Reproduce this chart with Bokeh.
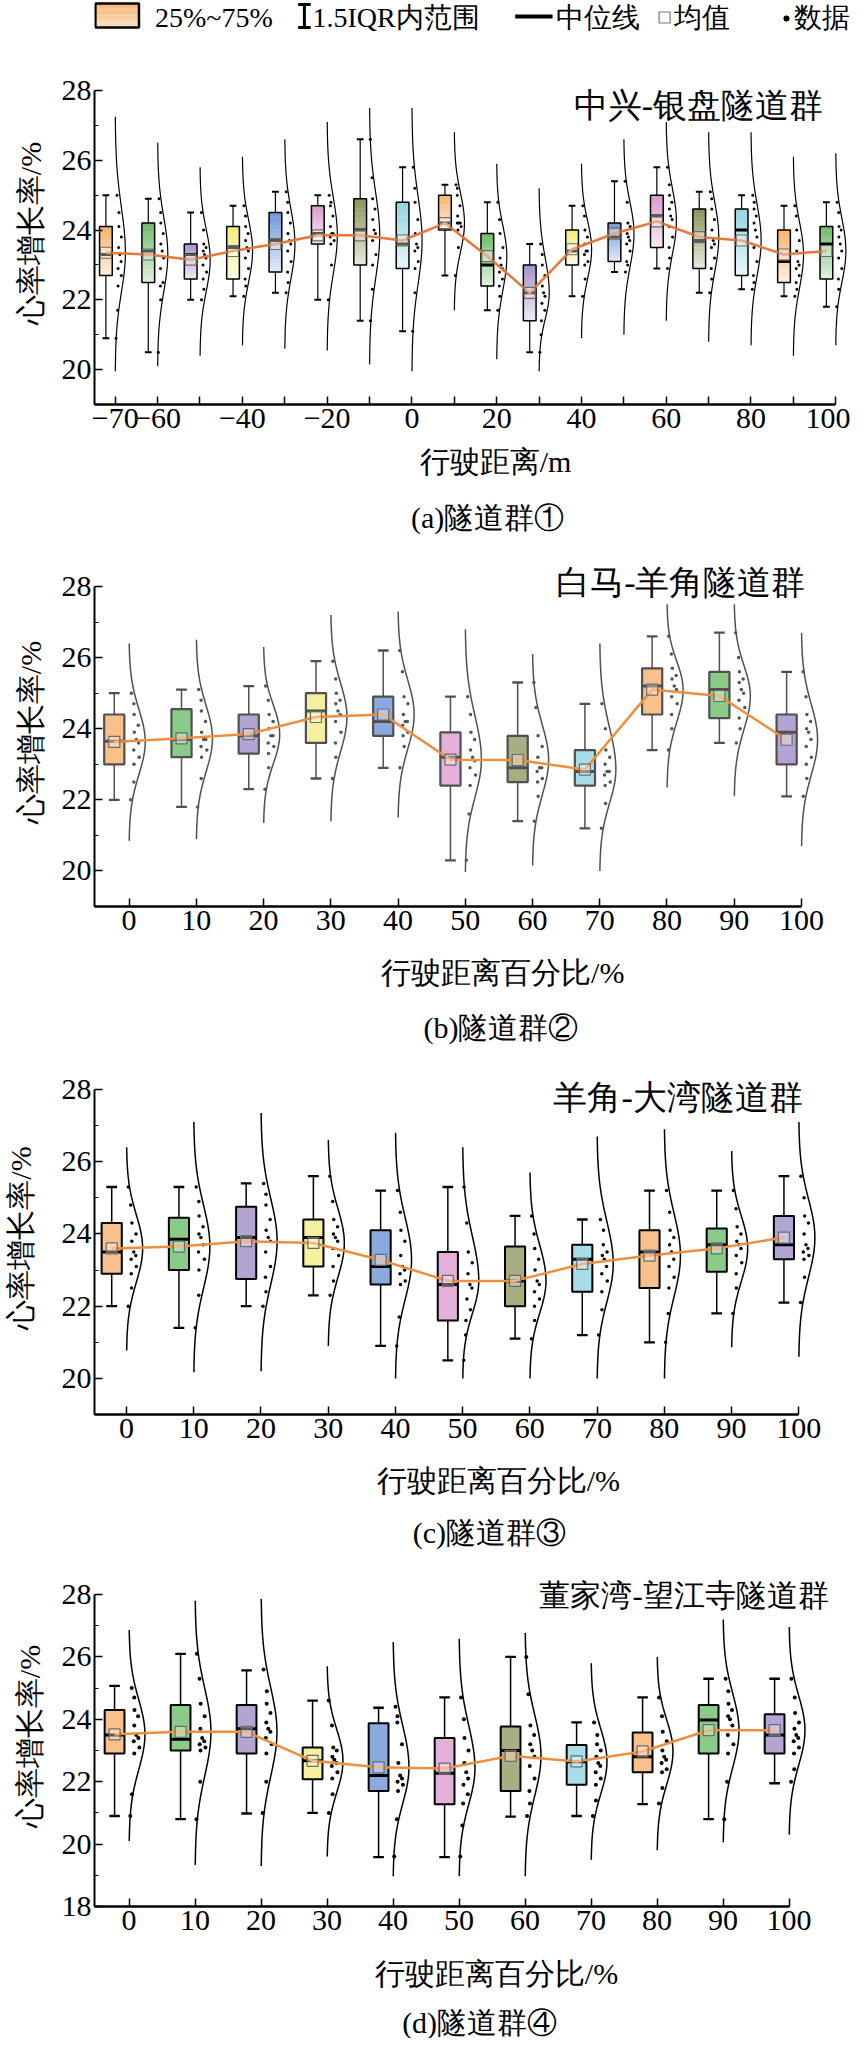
import numpy as np
from bokeh.plotting import figure
from bokeh.layouts import column
from bokeh.models import Range1d, FixedTicker
from bokeh.core.properties import value
from bokeh.embed import file_html
from bokeh.resources import INLINE

FONT = "Liberation Serif"

# ---------------- data ----------------
Y_TITLE = "心率增长率/%"

P1_TITLE = "中兴-银盘隧道群"
P1_XLABEL = "行驶距离/m"
P1_CAPTION = "(a)隧道群①"
P1_X = [-70, -60, -50, -40, -30, -20, -10, 0, 10, 20, 30, 40, 50, 60, 70, 80, 90, 100]
P1_TICKLABELS = {-70: "\u221270", -60: "\u221260", -50: "", -40: "\u221240", -30: "", -20: "\u221220",
                 -10: "", 10: "", 30: "", 50: "", 70: "", 90: ""}
P1_WT = [25.0, 24.9, 24.5, 24.7, 25.1, 25.0, 26.6, 25.8, 25.3, 24.8, 23.6, 24.7, 25.4, 25.8, 25.1, 25.0, 24.7, 24.8]
P1_Q3 = [24.1, 24.2, 23.6, 24.1, 24.5, 24.7, 24.9, 24.8, 25.0, 23.9, 23.0, 24.0, 24.2, 25.0, 24.6, 24.6, 24.0, 24.1]
P1_MED = [23.3, 23.4, 23.3, 23.5, 23.7, 23.9, 24.0, 23.6, 24.2, 23.0, 22.2, 23.4, 23.8, 24.4, 23.7, 24.0, 23.1, 23.6]
P1_Q1 = [22.7, 22.5, 22.6, 22.6, 22.8, 23.6, 23.0, 22.9, 24.0, 22.4, 21.4, 23.0, 23.1, 23.5, 22.9, 22.7, 22.5, 22.6]
P1_WB = [20.9, 20.5, 22.0, 22.1, 22.2, 22.0, 21.4, 21.1, 22.7, 21.7, 20.5, 22.1, 22.8, 22.9, 22.2, 22.3, 22.1, 21.8]
P1_MEAN = [23.35, 23.3, 23.15, 23.4, 23.6, 23.85, 23.85, 23.7, 24.2, 23.25, 22.2, 23.45, 23.9, 24.25, 23.8, 23.7, 23.3, 23.4]
P1_VHI = [27.25, 26.5, 25.8, 26.1, 26.6, 27.1, 27.5, 27.5, 26.8, 25.9, 25.2, 25.9, 26.6, 27.1, 26.8, 26.8, 26.1, 26.2]
P1_VLO = [19.95, 20.1, 20.4, 20.7, 20.6, 20.55, 20.15, 19.95, 21.7, 20.3, 19.95, 20.9, 21.0, 21.4, 20.8, 20.7, 20.4, 20.7]
P1_DOTS = [
    [20.9, 21.7, 22.4, 22.7, 22.9, 23.1, 23.3, 23.5, 23.8, 24.1, 24.5, 25.0],
    [20.5, 22.0, 22.4, 22.5, 22.9, 23.2, 23.4, 23.6, 23.9, 24.2, 24.5, 24.9],
    [22.0, 22.3, 22.6, 22.8, 23.0, 23.2, 23.3, 23.4, 23.5, 23.6, 24.0, 24.5],
    [22.1, 22.4, 22.6, 22.9, 23.2, 23.4, 23.5, 23.7, 23.9, 24.1, 24.4, 24.7],
    [22.2, 22.5, 22.8, 23.1, 23.4, 23.6, 23.7, 23.9, 24.2, 24.5, 24.8, 25.1],
    [22.0, 23.0, 23.6, 23.7, 23.8, 23.9, 23.9, 24.1, 24.4, 24.7, 24.8, 25.0],
    [21.4, 22.3, 23.0, 23.3, 23.7, 23.9, 24.0, 24.3, 24.6, 24.9, 25.5, 26.6],
    [21.1, 22.2, 22.9, 23.1, 23.4, 23.5, 23.6, 23.9, 24.3, 24.8, 25.2, 25.8],
    [22.7, 23.5, 24.0, 24.1, 24.2, 24.2, 24.2, 24.4, 24.7, 25.0, 25.2, 25.3],
    [21.7, 22.1, 22.4, 22.6, 22.8, 22.9, 23.0, 23.2, 23.5, 23.9, 24.3, 24.8],
    [20.5, 21.0, 21.4, 21.7, 21.9, 22.1, 22.2, 22.4, 22.7, 23.0, 23.3, 23.6],
    [22.1, 22.6, 23.0, 23.1, 23.3, 23.4, 23.4, 23.6, 23.8, 24.0, 24.4, 24.7],
    [22.8, 23.0, 23.1, 23.4, 23.6, 23.7, 23.8, 23.9, 24.1, 24.2, 24.8, 25.4],
    [22.9, 23.2, 23.5, 23.8, 24.1, 24.3, 24.4, 24.6, 24.8, 25.0, 25.3, 25.8],
    [22.2, 22.6, 22.9, 23.2, 23.5, 23.6, 23.7, 24.0, 24.3, 24.6, 24.9, 25.1],
    [22.3, 22.5, 22.7, 23.1, 23.5, 23.8, 24.0, 24.2, 24.4, 24.6, 24.8, 25.0],
    [22.1, 22.3, 22.5, 22.7, 22.9, 23.0, 23.1, 23.4, 23.7, 24.0, 24.4, 24.7],
    [21.8, 22.3, 22.6, 22.9, 23.2, 23.4, 23.6, 23.8, 24.0, 24.1, 24.5, 24.8],
]

PCT_X = [0, 10, 20, 30, 40, 50, 60, 70, 80, 90, 100]
PCT_XLABEL = "行驶距离百分比/%"

P2_TITLE = "白马-羊角隧道群"
P2_CAPTION = "(b)隧道群②"
P2_WT = [25.0, 25.1, 25.2, 25.9, 26.2, 24.9, 25.3, 24.7, 26.6, 26.7, 25.6]
P2_Q3 = [24.4, 24.55, 24.4, 25.0, 24.9, 23.9, 23.8, 23.4, 25.7, 25.6, 24.4]
P2_MED = [23.65, 23.7, 23.8, 24.5, 24.2, 23.2, 22.9, 22.8, 25.2, 25.1, 23.9]
P2_Q1 = [23.0, 23.2, 23.3, 23.6, 23.8, 22.4, 22.5, 22.4, 24.4, 24.3, 23.0]
P2_WB = [22.0, 21.8, 22.3, 22.6, 22.9, 20.3, 21.4, 21.2, 23.4, 23.6, 22.1]
P2_MEAN = [23.63, 23.73, 23.85, 24.33, 24.4, 23.13, 23.12, 22.85, 25.1, 24.92, 23.69]
P2_VHI = [26.4, 26.5, 26.3, 27.2, 27.3, 26.8, 26.1, 26.4, 27.5, 27.5, 26.7]
P2_VLO = [20.85, 20.9, 21.35, 21.4, 21.5, 19.97, 20.15, 20.0, 22.35, 22.1, 20.7]
P2_DOTS = [
    [22.0, 22.5, 23.0, 23.2, 23.4, 23.6, 23.7, 23.9, 24.1, 24.4, 24.7, 25.0],
    [21.8, 22.6, 23.2, 23.4, 23.5, 23.7, 23.7, 23.9, 24.2, 24.5, 24.8, 25.1],
    [22.3, 22.9, 23.3, 23.5, 23.6, 23.8, 23.8, 24.0, 24.2, 24.4, 24.8, 25.2],
    [22.6, 23.2, 23.6, 23.9, 24.2, 24.4, 24.5, 24.7, 24.8, 25.0, 25.4, 25.9],
    [22.9, 23.5, 23.8, 23.9, 24.1, 24.2, 24.2, 24.4, 24.7, 24.9, 25.6, 26.2],
    [20.3, 21.6, 22.4, 22.7, 22.9, 23.1, 23.2, 23.4, 23.7, 23.9, 24.4, 24.9],
    [21.4, 22.1, 22.5, 22.6, 22.8, 22.9, 22.9, 23.2, 23.5, 23.8, 24.6, 25.3],
    [21.2, 21.9, 22.4, 22.5, 22.7, 22.8, 22.8, 23.0, 23.2, 23.4, 24.0, 24.7],
    [23.4, 24.0, 24.4, 24.7, 24.9, 25.1, 25.2, 25.4, 25.5, 25.7, 26.1, 26.6],
    [23.6, 24.0, 24.3, 24.6, 24.8, 25.0, 25.1, 25.3, 25.4, 25.6, 26.0, 26.7],
    [22.1, 22.6, 23.0, 23.2, 23.5, 23.7, 23.9, 24.0, 24.2, 24.4, 24.9, 25.6],
]

P3_TITLE = "羊角-大湾隧道群"
P3_CAPTION = "(c)隧道群③"
P3_WT = [25.3, 25.3, 25.4, 25.6, 25.2, 25.3, 24.5, 24.4, 25.2, 25.2, 25.6]
P3_Q3 = [24.3, 24.45, 24.75, 24.4, 24.1, 23.5, 23.65, 23.7, 24.1, 24.15, 24.5]
P3_MED = [23.5, 23.85, 23.9, 23.9, 23.1, 22.6, 22.7, 23.3, 23.5, 23.7, 23.7]
P3_Q1 = [22.9, 23.0, 22.75, 23.1, 22.6, 21.6, 22.0, 22.4, 22.5, 22.95, 23.3]
P3_WB = [22.0, 21.4, 22.0, 22.3, 20.9, 20.5, 21.1, 21.2, 21.0, 21.8, 22.1]
P3_MEAN = [23.6, 23.65, 23.8, 23.75, 23.28, 22.7, 22.7, 23.17, 23.4, 23.6, 23.9]
P3_VHI = [26.4, 27.1, 27.35, 26.6, 26.8, 26.4, 25.7, 26.7, 26.9, 26.3, 27.1]
P3_VLO = [20.77, 20.17, 20.2, 20.9, 20.0, 20.0, 20.0, 20.0, 20.0, 20.86, 20.6]
P3_DOTS = [
    [22.0, 22.5, 22.9, 23.1, 23.3, 23.4, 23.5, 23.8, 24.0, 24.3, 24.8, 25.3],
    [21.4, 22.3, 23.0, 23.3, 23.5, 23.7, 23.9, 24.0, 24.2, 24.5, 24.9, 25.3],
    [22.0, 22.4, 22.8, 23.1, 23.5, 23.8, 23.9, 24.1, 24.4, 24.8, 25.1, 25.4],
    [22.3, 22.7, 23.1, 23.4, 23.6, 23.8, 23.9, 24.0, 24.2, 24.4, 24.9, 25.6],
    [20.9, 21.7, 22.6, 22.7, 22.9, 23.0, 23.1, 23.4, 23.8, 24.1, 24.6, 25.2],
    [20.5, 21.2, 21.6, 21.9, 22.2, 22.5, 22.6, 22.9, 23.2, 23.5, 24.3, 25.3],
    [21.1, 21.6, 22.0, 22.2, 22.4, 22.6, 22.7, 23.0, 23.3, 23.6, 24.0, 24.5],
    [21.2, 21.9, 22.4, 22.7, 22.9, 23.1, 23.3, 23.4, 23.5, 23.7, 24.1, 24.4],
    [21.0, 21.8, 22.5, 22.8, 23.1, 23.3, 23.5, 23.7, 23.9, 24.1, 24.6, 25.2],
    [21.8, 22.5, 22.9, 23.2, 23.4, 23.6, 23.7, 23.8, 24.0, 24.2, 24.7, 25.2],
    [22.1, 22.8, 23.3, 23.4, 23.5, 23.6, 23.7, 24.0, 24.3, 24.5, 25.0, 25.6],
]

P4_TITLE = "董家湾-望江寺隧道群"
P4_CAPTION = "(d)隧道群④"
P4_WT = [25.07, 26.1, 25.57, 24.6, 24.37, 24.7, 26.0, 23.9, 24.7, 25.3, 25.3]
P4_Q3 = [24.3, 24.46, 24.46, 23.1, 23.87, 23.4, 23.77, 23.18, 23.58, 24.46, 24.16]
P4_MED = [23.5, 23.36, 23.7, 22.67, 22.2, 22.27, 23.0, 22.64, 22.8, 23.98, 23.5]
P4_Q1 = [22.9, 23.0, 22.9, 22.08, 21.7, 21.28, 21.7, 21.9, 22.3, 22.9, 22.9]
P4_WB = [20.9, 20.8, 20.98, 21.0, 19.58, 19.58, 20.88, 20.9, 21.28, 20.8, 21.95]
P4_MEAN = [23.52, 23.6, 23.6, 22.67, 22.46, 22.42, 22.83, 22.65, 22.97, 23.65, 23.65]
P4_VHI = [26.86, 27.8, 27.86, 25.7, 26.48, 26.58, 26.77, 25.8, 26.0, 27.2, 26.96]
P4_VLO = [20.1, 19.33, 19.3, 19.6, 18.97, 18.97, 18.97, 19.5, 19.8, 20.06, 20.3]
P4_DOTS = [
    [20.9, 21.6, 22.9, 23.1, 23.3, 23.4, 23.5, 23.8, 24.1, 24.3, 24.7, 25.0],
    [20.8, 22.0, 23.0, 23.1, 23.2, 23.3, 23.4, 23.7, 24.1, 24.5, 25.3, 26.1],
    [21.0, 22.0, 22.9, 23.2, 23.4, 23.6, 23.7, 23.9, 24.2, 24.5, 24.9, 25.6],
    [21.0, 21.6, 22.1, 22.3, 22.5, 22.6, 22.7, 22.8, 23.0, 23.1, 23.8, 24.6],
    [19.6, 20.8, 21.7, 21.9, 22.0, 22.1, 22.2, 22.6, 23.2, 23.9, 24.1, 24.4],
    [19.6, 20.6, 21.3, 21.6, 21.9, 22.1, 22.3, 22.6, 23.0, 23.4, 24.0, 24.7],
    [20.9, 21.3, 21.7, 22.1, 22.5, 22.8, 23.0, 23.2, 23.5, 23.8, 24.8, 26.0],
    [20.9, 21.4, 21.9, 22.1, 22.3, 22.5, 22.6, 22.8, 23.0, 23.2, 23.5, 23.9],
    [21.3, 21.8, 22.3, 22.4, 22.6, 22.7, 22.8, 23.0, 23.3, 23.6, 24.1, 24.7],
    [20.8, 22.0, 22.9, 23.2, 23.5, 23.8, 24.0, 24.1, 24.3, 24.5, 24.9, 25.3],
    [22.0, 22.4, 22.9, 23.1, 23.3, 23.4, 23.5, 23.7, 23.9, 24.2, 24.7, 25.3],
]

LEGEND_TEXTS = ["25%~75%", "1.5IQR内范围", "中位线", "均值", "数据"]

COLORS_P1 = ["#F5B26B", "#6DBA6A", "#A793CB", "#F2EC7A", "#6F96D6", "#DB98CF", "#8A9358", "#93D3E0"]
COLORS = ["#F8C08A", "#8ACB88", "#B3A5D3", "#F5F0A0", "#8AAADF", "#E3B1D8", "#A8AD82", "#A9DDE8"]

# ---------------- helpers ----------------
JIT = [0.22, 0.58, 0.36, 0.74, 0.28, 0.62, 0.46, 0.32, 0.68, 0.42, 0.54, 0.3]
HEADROOM = 28  # px of frame above the 28 tick (room for the panel title)


def lighten(c, t):
    r, g, b = int(c[1:3], 16), int(c[3:5], 16), int(c[5:7], 16)
    r = round(r + (255 - r) * t)
    g = round(g + (255 - g) * t)
    b = round(b + (255 - b) * t)
    return "#%02x%02x%02x" % (r, g, b)


def vwidth(y, m, lo, hi, amp):
    y = np.asarray(y, float)
    s = np.where(y >= m, (hi - m) / 3.0, (m - lo) / 3.0)
    return amp * np.exp(-0.5 * ((y - m) / s) ** 2)


def make_panel(xs, wt, q3, med, q1, wb, mean, vlo, vhi, dots, colors, st, g, title, tick_over=None):
    frame_top = g["y28"] - HEADROOM
    mt = frame_top - g["top"]
    h = g["axis"] + 40 - g["top"]
    ybot = g["ybot"]
    yend = 28 + HEADROOM * (28 - ybot) / (g["axis"] - g["y28"])
    p = figure(width=850, height=h, x_range=Range1d(*g["xr"]), y_range=Range1d(ybot, yend),
               output_backend="svg", toolbar_location=None,
               min_border_left=g["ml"], min_border_right=0,
               min_border_top=mt, min_border_bottom=40)
    p.outline_line_color = None
    p.xgrid.visible = False
    p.ygrid.visible = False
    xs = np.array(xs, float)
    n = len(xs)
    bc = xs - 2.2
    hw = 1.5
    cw = 0.8
    amp = 2.4
    lc = st["lc"]

    # half violins
    vx, vy = [], []
    for i in range(n):
        yy = np.linspace(vlo[i], vhi[i], 90)
        vx.append(list(xs[i] + vwidth(yy, mean[i], vlo[i], vhi[i], amp)))
        vy.append(list(yy))
    p.multi_line(vx, vy, line_color=st["vc"], line_width=st["vw"])

    # data points inside the violins
    dx, dy = [], []
    for i in range(n):
        w = vwidth(dots[i], mean[i], vlo[i], vhi[i], amp)
        for k, yv in enumerate(dots[i]):
            dx.append(xs[i] + 0.15 + JIT[k % len(JIT)] * w[k] * 0.85)
            dy.append(yv)
    p.scatter(dx, dy, marker="circle", size=st["ds"], fill_color=st["dc"], line_color=None)

    # boxes
    if st["grad"]:
        L, R, T, B, C = [], [], [], [], []
        ns = 14
        for i in range(n):
            for k in range(ns):
                top = q3[i] - (q3[i] - q1[i]) * k / ns
                bot = q3[i] - (q3[i] - q1[i]) * (k + 1) / ns
                L.append(bc[i] - hw); R.append(bc[i] + hw); T.append(top); B.append(bot)
                C.append(lighten(colors[i % 8], 0.8 * (k + 0.5) / ns))
        p.quad(left=L, right=R, top=T, bottom=B, fill_color=C, line_color=C, line_width=0.5)
    else:
        p.quad(left=list(bc - hw), right=list(bc + hw), top=q3, bottom=q1,
               fill_color=[colors[i % 8] for i in range(n)], line_color=None)
    # whiskers
    p.segment(x0=list(bc), y0=q3, x1=list(bc), y1=wt, line_color=lc, line_width=st["ww"])
    p.segment(x0=list(bc), y0=q1, x1=list(bc), y1=wb, line_color=lc, line_width=st["ww"])
    p.segment(x0=list(bc - cw), y0=wt, x1=list(bc + cw), y1=wt, line_color=lc, line_width=st["ww"] + 0.8)
    p.segment(x0=list(bc - cw), y0=wb, x1=list(bc + cw), y1=wb, line_color=lc, line_width=st["ww"] + 0.8)
    p.quad(left=list(bc - hw), right=list(bc + hw), top=q3, bottom=q1,
           fill_color=None, line_color=lc, line_width=st["bw"])
    p.segment(x0=list(bc - hw), y0=med, x1=list(bc + hw), y1=med, line_color=lc, line_width=3)

    # mean line and mean markers
    p.line(list(bc), mean, line_color=st["mc"], line_width=2.5)
    p.scatter(list(bc), mean, marker="square", size=11, fill_color="white", fill_alpha=0.35,
              line_color="#6b6b6b", line_width=1.2)

    # panel title (inside the frame, top right)
    p.text(x=[g["tx"]], y=[g["ty"]], text=[title], text_align="right", text_baseline="middle",
           text_font=value(FONT), text_font_size=value(g["tfs"]), text_color="black")

    # axes
    xa = p.xaxis[0]
    xa.ticker = FixedTicker(ticks=list(xs))
    if tick_over:
        xa.major_label_overrides = tick_over
    xa.bounds = (g["xr"][0], 100)
    xa.axis_line_width = 2.5
    xa.major_tick_in = 8
    xa.major_tick_out = 0
    xa.major_tick_line_width = 1.5
    xa.minor_tick_line_color = None
    xa.major_label_text_font = FONT
    xa.major_label_text_font_size = "30px"
    xa.major_label_text_color = "black"
    xa.major_label_standoff = 4

    ya = p.yaxis[0]
    ya.ticker = FixedTicker(ticks=g["ymaj"], minor_ticks=g["ymin"])
    ya.bounds = (ybot, 28)
    ya.axis_line_width = 2
    ya.major_tick_in = 8
    ya.major_tick_out = 0
    ya.major_tick_line_width = 1.5
    ya.minor_tick_in = 4
    ya.minor_tick_out = 0
    ya.major_label_text_font = FONT
    ya.major_label_text_font_size = "30px"
    ya.major_label_text_color = "black"
    ya.major_label_standoff = 3
    ya.axis_label = Y_TITLE
    ya.axis_label_text_font = FONT
    ya.axis_label_text_font_size = "30px"
    ya.axis_label_text_font_style = "normal"
    ya.axis_label_text_color = "black"
    ya.axis_label_standoff = g["yls"]
    return p


def text_strip(h, xlabel, caption, lx, ly, cx, cy):
    s = figure(width=850, height=h, x_range=Range1d(0, 850), y_range=Range1d(h, 0),
               output_backend="svg", toolbar_location=None, x_axis_location=None, y_axis_location=None,
               min_border=0)
    s.outline_line_color = None
    s.grid.visible = False
    s.text(x=[lx, cx], y=[ly, cy], text=[xlabel, caption], text_align="center", text_baseline="middle",
           text_font=value(FONT), text_font_size=value("30px"), text_color="black")
    return s


YMAJ = [20, 22, 24, 26, 28]
YMIN = [19, 21, 23, 25, 27]

ST1 = dict(grad=True, lc="black", vc="black", vw=1.2, ds=3, dc="black", bw=1.5, ww=1.2, mc="#E3783A")
ST2 = dict(grad=False, lc="#505050", vc="#505050", vw=1.5, ds=3.5, dc="#555555", bw=2.2, ww=1.5, mc="#EE8F3F")
ST3 = dict(grad=False, lc="black", vc="black", vw=1.5, ds=3.5, dc="black", bw=2, ww=1.5, mc="#EE8F3F")
ST4 = dict(grad=False, lc="black", vc="black", vw=1.5, ds=4, dc="black", bw=2, ww=1.5, mc="#EE8F3F")

# page-pixel geometry of each panel (figure top, 28-tick, axis line)
G1 = dict(top=60, y28=98, axis=412, ybot=19, xr=(-74.89, 103.49), ml=84, ymaj=YMAJ, ymin=YMIN, yls=12,
          tx=97.0, ty=27.57, tfs="34px")
G2 = dict(top=552, y28=594, axis=914, ybot=19, xr=(-5.14, 107.3), ml=84, ymaj=YMAJ, ymin=YMIN, yls=12,
          tx=100.6, ty=28.1, tfs="34px")
G3 = dict(top=1066, y28=1097, axis=1422, ybot=19, xr=(-4.76, 107.7), ml=94, ymaj=YMAJ, ymin=YMIN, yls=22,
          tx=100.6, ty=27.78, tfs="34px")
G4 = dict(top=1570, y28=1602, axis=1914, ybot=18, xr=(-5.24, 109.3), ml=85, ymaj=[18, 20, 22, 24, 26, 28],
          ymin=[19, 21, 23, 25, 27], yls=13, tx=106.0, ty=27.98, tfs="31px")

p1 = make_panel(P1_X, P1_WT, P1_Q3, P1_MED, P1_Q1, P1_WB, P1_MEAN, P1_VLO, P1_VHI, P1_DOTS,
                COLORS_P1, ST1, G1, P1_TITLE, P1_TICKLABELS)
s1 = text_strip(100, P1_XLABEL, P1_CAPTION, 451, 17, 442, 73)
p2 = make_panel(PCT_X, P2_WT, P2_Q3, P2_MED, P2_Q1, P2_WB, P2_MEAN, P2_VLO, P2_VHI, P2_DOTS,
                COLORS, ST2, G2, P2_TITLE)
s2 = text_strip(112, PCT_XLABEL, P2_CAPTION, 459, 26, 457, 81)
p3 = make_panel(PCT_X, P3_WT, P3_Q3, P3_MED, P3_Q1, P3_WB, P3_MEAN, P3_VLO, P3_VHI, P3_DOTS,
                COLORS, ST3, G3, P3_TITLE)
s3 = text_strip(108, PCT_XLABEL, P3_CAPTION, 454, 26, 444, 78)
p4 = make_panel(PCT_X, P4_WT, P4_Q3, P4_MED, P4_Q1, P4_WB, P4_MEAN, P4_VLO, P4_VHI, P4_DOTS,
                COLORS, ST4, G4, P4_TITLE)
s4 = text_strip(92, PCT_XLABEL, P4_CAPTION, 452, 27, 433, 76)

# ---------------- legend strip ----------------
lg = figure(width=850, height=52, x_range=Range1d(0, 850), y_range=Range1d(52, 0),
            output_backend="svg", toolbar_location=None, x_axis_location=None, y_axis_location=None,
            min_border=0)
lg.outline_line_color = None
lg.grid.visible = False
ns = 10
lg.quad(left=[0] * ns, right=[50] * ns,
        top=[3 + 24 * k / ns for k in range(ns)], bottom=[3 + 24 * (k + 1) / ns for k in range(ns)],
        fill_color=[lighten("#F7B575", 0.55 * (k + 0.5) / ns) for k in range(ns)], line_color=None)
lg.quad(left=[1], right=[50], top=[3], bottom=[27], fill_color=None, line_color="black", line_width=2.5)
lg.segment(x0=[236, 229, 229], y0=[4, 4, 27], x1=[236, 243, 243], y1=[27, 4, 27], line_color="black", line_width=3)
lg.segment(x0=[473], y0=[16], x1=[515], y1=[16], line_color="black", line_width=4)
lg.scatter([641], [17], marker="square", size=11, fill_color="white", line_color="#777777", line_width=1.2)
lg.scatter([778], [18], marker="circle", size=6, fill_color="black", line_color=None)
lg.text(x=[68, 245, 519, 652, 786], y=[17, 17, 17, 17, 17], text=LEGEND_TEXTS,
        text_font=value(FONT), text_font_size=value("28px"), text_baseline="middle", text_color="black")

layout = column(lg, p1, s1, p2, s2, p3, s3, p4, s4, spacing=0)
open("out.html", "w").write(file_html(layout, INLINE))
